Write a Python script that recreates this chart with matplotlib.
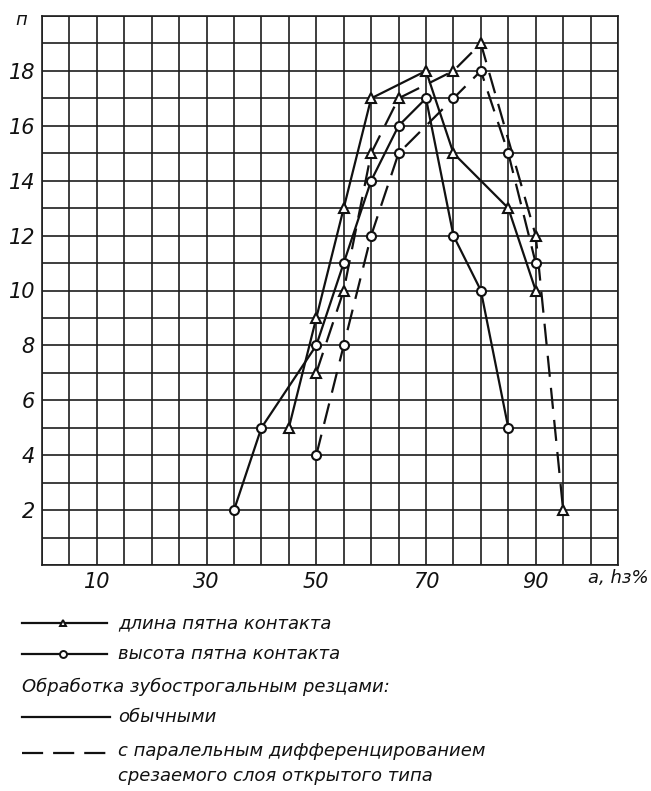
import matplotlib
matplotlib.use("Agg")
import matplotlib.pyplot as plt
from matplotlib.ticker import FixedFormatter, FixedLocator

# contact patch: a, hз% against n
# length of patch, ordinary cutters
a_len_plain = [45, 50, 55, 60, 70, 75, 85, 90]
n_len_plain = [5, 9, 13, 17, 18, 15, 13, 10]
# height of patch, ordinary cutters
a_hgt_plain = [35, 40, 50, 55, 60, 65, 70, 75, 80, 85]
n_hgt_plain = [2, 5, 8, 11, 14, 16, 17, 12, 10, 5]
# length of patch, cutters with parallel differentiation
a_len_diff = [50, 55, 60, 65, 75, 80, 90, 95]
n_len_diff = [7, 10, 15, 17, 18, 19, 12, 2]
# height of patch, cutters with parallel differentiation
a_hgt_diff = [50, 55, 60, 65, 75, 80, 85, 90]
n_hgt_diff = [4, 8, 12, 15, 17, 18, 15, 11]

x_labelled = [10, 30, 50, 70, 90]
y_labelled = [2, 4, 6, 8, 10, 12, 14, 16, 18]

legend_rows = ["длина пятна контакта", "высота пятна контакта"]
legend_head = "Обработка зубострогальным резцами:"
legend_plain = "обычными"
legend_diff = ["с паралельным дифференцированием",
               "срезаемого слоя открытого типа"]

ink = "#111111"
num_font = dict(family="Liberation Sans Narrow", style="italic", size=15, color=ink)
txt_font = dict(family="DejaVu Sans", style="oblique", size=13, color=ink)
dash = (0, (9.5, 5))

W, H = 651, 791
fig = plt.figure(figsize=(W / 100, H / 100), dpi=100)
ax = fig.add_axes([42 / W, 1 - 565 / H, 576 / W, 549 / H])

ax.set_xlim(0, 105)
ax.set_ylim(0, 20)

# grid every 5 % and every unit of n
xs = list(range(0, 106, 5))
ys = list(range(0, 21))
ax.xaxis.set_major_locator(FixedLocator(xs))
ax.yaxis.set_major_locator(FixedLocator(ys))
ax.xaxis.set_major_formatter(FixedFormatter([str(v) if v in x_labelled else "" for v in xs]))
ax.yaxis.set_major_formatter(FixedFormatter([str(v) if v in y_labelled else "" for v in ys]))
ax.grid(True, color="#1e1e1e", linewidth=1.2)
ax.tick_params(length=0, pad=5)
for lbl in ax.get_xticklabels() + ax.get_yticklabels():
    lbl.set_fontfamily(num_font["family"])
    lbl.set_fontstyle("italic")
    lbl.set_fontsize(num_font["size"])
    lbl.set_color(ink)
for s in ax.spines.values():
    s.set_color("#1e1e1e")
    s.set_linewidth(1.2)

mk = dict(markersize=6.5, markerfacecolor="white", markeredgecolor=ink,
          markeredgewidth=1.5, color=ink, linewidth=1.6)
ax.plot(a_len_plain, n_len_plain, marker="^", linestyle="-", **mk)
ax.plot(a_hgt_plain, n_hgt_plain, marker="o", linestyle="-", **mk)
ax.plot(a_len_diff, n_len_diff, marker="^", linestyle=dash, **mk)
ax.plot(a_hgt_diff, n_hgt_diff, marker="o", linestyle=dash, **mk)

fig.text(15 / W, 1 - 20 / H, "п", ha="left", va="center", **txt_font)
fig.text(588 / W, 1 - 578 / H, "а, hз%", ha="left", va="center", **txt_font)

# key below the grid, laid out in pixel units
lax = fig.add_axes([0, 0, 1, 1], zorder=-1)
lax.set_xlim(0, W)
lax.set_ylim(H, 0)
lax.axis("off")

for y, m, label in zip([623, 654], ["^", "o"], legend_rows):
    lax.plot([22, 107], [y, y], color=ink, linewidth=1.6)
    lax.plot([63], [y], marker=m, markersize=5, markerfacecolor="white",
             markeredgecolor=ink, markeredgewidth=1.4)
    lax.text(118, y, label, ha="left", va="center", **txt_font)

lax.text(22, 687, legend_head, ha="left", va="center", **txt_font)

lax.plot([22, 110], [717, 717], color=ink, linewidth=1.6)
lax.text(118, 717, legend_plain, ha="left", va="center", **txt_font)
lax.plot([22, 110], [753, 753], color=ink, linewidth=1.6, linestyle=(0, (9.5, 4.5)))
lax.text(118, 751, legend_diff[0], ha="left", va="center", **txt_font)
lax.text(118, 776, legend_diff[1], ha="left", va="center", **txt_font)

fig.savefig("out.png", dpi=100)
